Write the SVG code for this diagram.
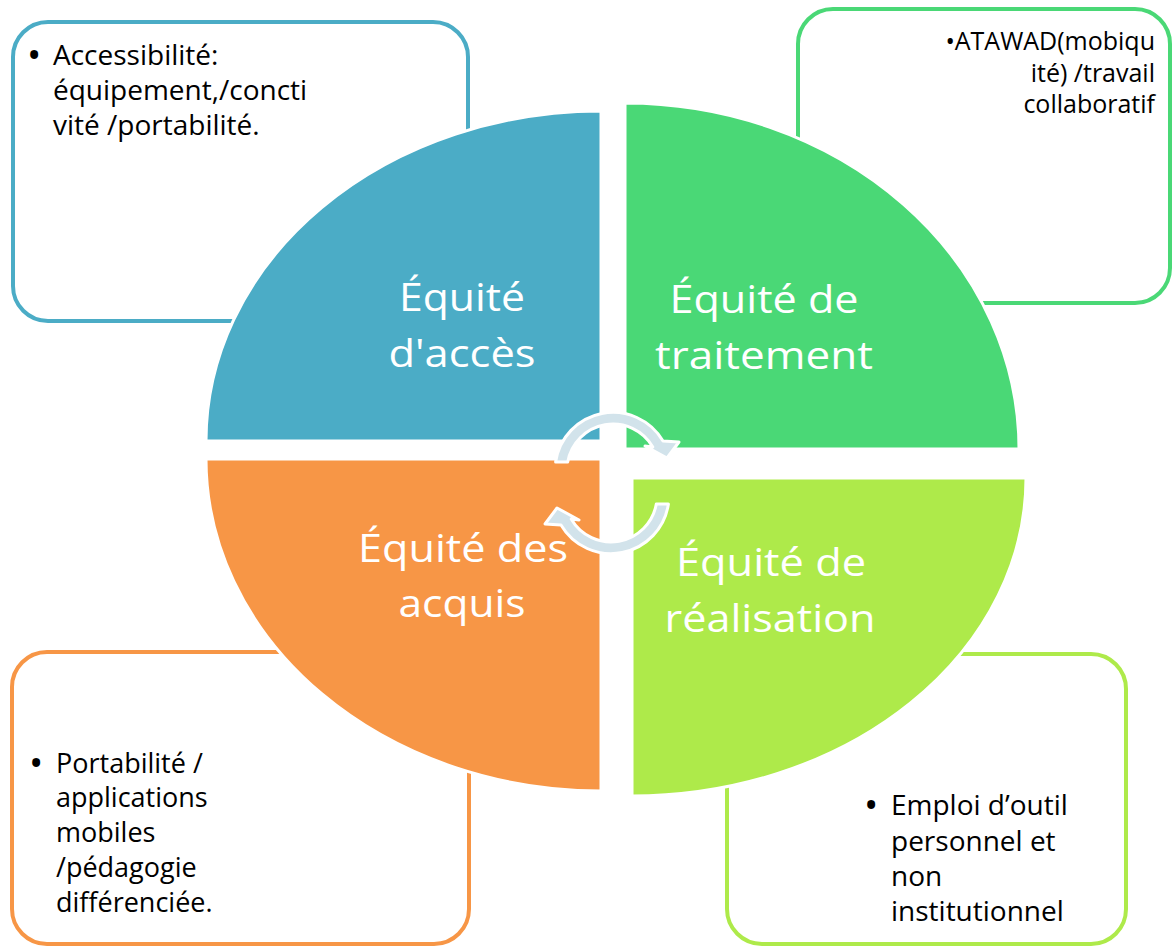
<svg xmlns="http://www.w3.org/2000/svg" width="1174" height="947" viewBox="0 0 1174 947">
<style>
.box{fill:#fff;stroke-width:4}
.quad{stroke:#fff;stroke-width:3}
.body{font-family:"Open Sans","Liberation Sans",sans-serif;fill:#000}
.bul{font-size:38px}
.head{font-family:"Open Sans","Liberation Sans",sans-serif;fill:#fff;font-size:39px;text-anchor:middle}
.arrow{fill:#D2E3EB;stroke:#fff;stroke-width:3;stroke-linejoin:round}
</style>
<rect width="1174" height="947" fill="#fff"/>
<g id="box-acces">
<rect class="box" x="13" y="22" width="455" height="299" rx="35" stroke="#4BACC6"/>
<g class="body" font-size="28">
<text class="bul" x="27" y="69">•</text>
<text x="53" y="65">Accessibilité:</text>
<text x="53" y="100">équipement,/concti</text>
<text x="53" y="135">vité /portabilité.</text>
</g>
</g>
<g id="box-traitement">
<rect class="box" x="798" y="9" width="372" height="294" rx="35" stroke="#4AD876"/>
<g class="body" font-size="25" text-anchor="end">
<text x="1155" y="50">•ATAWAD(mobiqu</text>
<text x="1155" y="82">ité) /travail</text>
<text x="1155" y="113">collaboratif</text>
</g>
</g>
<g id="box-acquis">
<rect class="box" x="12" y="652" width="457" height="292" rx="35" stroke="#F79646"/>
<g class="body" font-size="27">
<text class="bul" x="29" y="777">•</text>
<text x="56" y="773">Portabilité /</text>
<text x="56" y="807">applications</text>
<text x="56" y="842">mobiles</text>
<text x="56" y="877">/pédagogie</text>
<text x="56" y="912">différenciée.</text>
</g>
</g>
<g id="box-realisation">
<rect class="box" x="727" y="654" width="399" height="290" rx="35" stroke="#AEEA4A"/>
<g class="body" font-size="28">
<text class="bul" x="864" y="819">•</text>
<text x="891" y="815">Emploi d’outil</text>
<text x="891" y="851">personnel et</text>
<text x="891" y="886">non</text>
<text x="891" y="921">institutionnel</text>
</g>
</g>
<g id="quad-acces">
<path class="quad" fill="#4BACC6" d="M601 441 L206 441 A395 330 0 0 1 601 111 Z"/>
<text class="head" x="462" y="311" textLength="126" lengthAdjust="spacingAndGlyphs">Équité</text>
<text class="head" x="462" y="367" textLength="147" lengthAdjust="spacingAndGlyphs">d'accès</text>
</g>
<g id="quad-traitement">
<path class="quad" fill="#4AD876" d="M625 449 L625 103 A394 346 0 0 1 1019 449 Z"/>
<text class="head" x="764" y="313" textLength="189" lengthAdjust="spacingAndGlyphs">Équité de</text>
<text class="head" x="764" y="369" textLength="218" lengthAdjust="spacingAndGlyphs">traitement</text>
</g>
<g id="quad-acquis">
<path class="quad" fill="#F79646" d="M601 459 L601 791 A395 332 0 0 1 206 459 Z"/>
<text class="head" x="463" y="562" textLength="210" lengthAdjust="spacingAndGlyphs">Équité des</text>
<text class="head" x="462" y="617" textLength="127" lengthAdjust="spacingAndGlyphs">acquis</text>
</g>
<g id="quad-realisation">
<path class="quad" fill="#AEEA4A" d="M632 478 L1026 478 A394 318 0 0 1 632 796 Z"/>
<text class="head" x="771" y="576" textLength="190" lengthAdjust="spacingAndGlyphs">Équité de</text>
<text class="head" x="770" y="632" textLength="211" lengthAdjust="spacingAndGlyphs">réalisation</text>
</g>
<g id="connectors">
<path id="arrow-top" class="arrow" d="M555.6 462 A58 58 0 0 1 663 441 L679 442 L667 458 L645 446 L652.8 447 A46 46 0 0 0 567.7 462 Z"/>
<path id="arrow-bottom" class="arrow" transform="rotate(180 612 483)" d="M555.6 462 A58 58 0 0 1 663 441 L679 442 L667 458 L645 446 L652.8 447 A46 46 0 0 0 567.7 462 Z"/>
</g>
</svg>
